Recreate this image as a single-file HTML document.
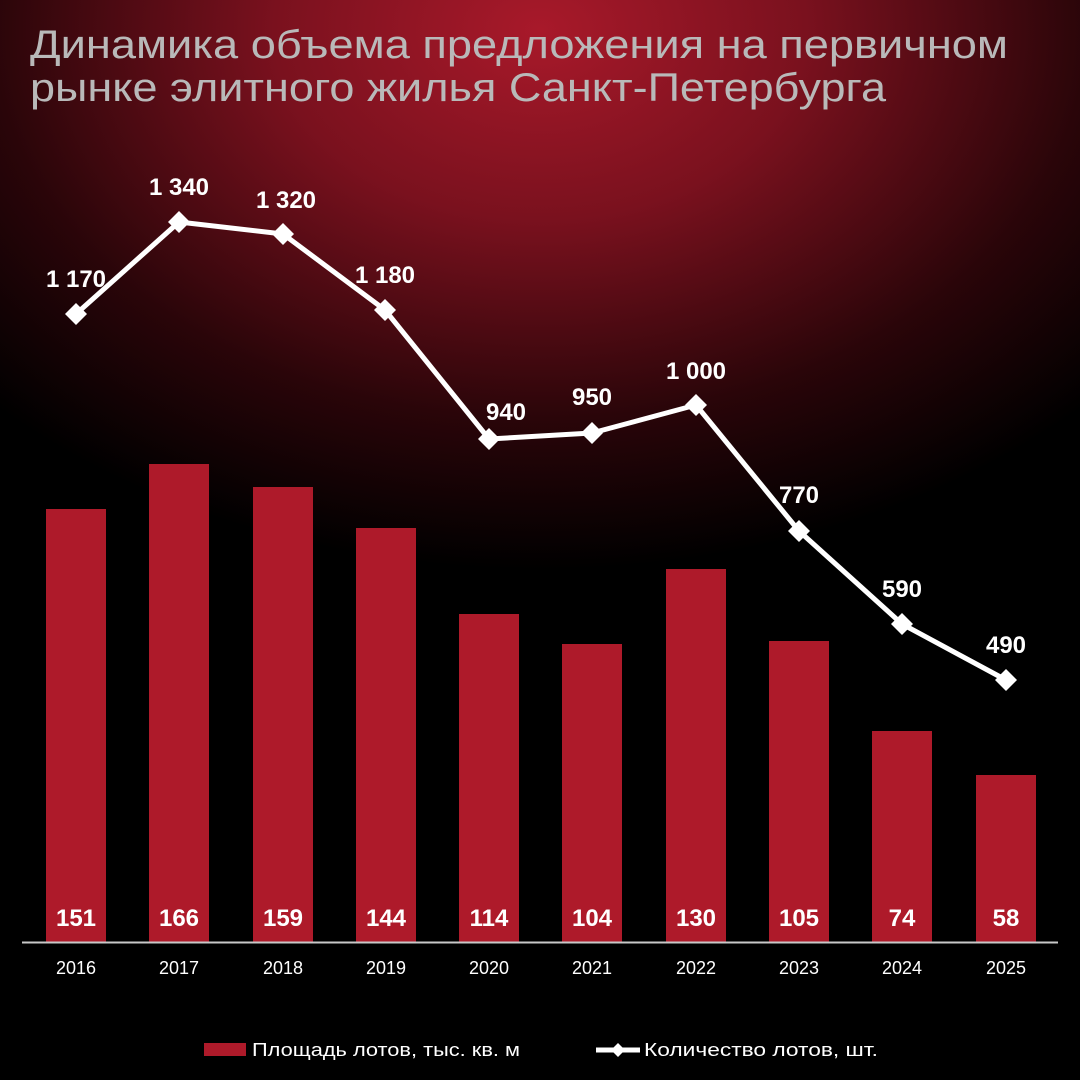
<!DOCTYPE html>
<html><head><meta charset="utf-8"><style>
html,body{margin:0;padding:0;background:#000}
#c{width:1080px;height:1080px;position:relative;overflow:hidden;
background:radial-gradient(ellipse 760px 540px at 540px 30px,#a8192a 0%,#7a111e 35%,#2a0509 72%,#000 100%);}
svg{position:absolute;left:0;top:0}
</style></head><body><div id="c">
<svg width="1080" height="1080" xmlns="http://www.w3.org/2000/svg" font-family="'Liberation Sans', sans-serif">
<text x="30" y="58" font-size="40" fill="#b9b9b9" textLength="978" lengthAdjust="spacingAndGlyphs">Динамика объема предложения на первичном</text>
<text x="30" y="101" font-size="40" fill="#b9b9b9" textLength="856" lengthAdjust="spacingAndGlyphs">рынке элитного жилья Санкт-Петербурга</text>
<g fill="#ae1a2a">
<rect x="46" y="509" width="60" height="433"/>
<rect x="149" y="464" width="60" height="478"/>
<rect x="253" y="487" width="60" height="455"/>
<rect x="356" y="528" width="60" height="414"/>
<rect x="459" y="614" width="60" height="328"/>
<rect x="562" y="644" width="60" height="298"/>
<rect x="666" y="569" width="60" height="373"/>
<rect x="769" y="641" width="60" height="301"/>
<rect x="872" y="731" width="60" height="211"/>
<rect x="976" y="775" width="60" height="167"/>
</g>
<line x1="22" y1="942.5" x2="1058" y2="942.5" stroke="#c8c8c8" stroke-width="2"/>
<g fill="#fff" font-size="24" font-weight="bold" text-anchor="middle">
<text x="76" y="926">151</text><text x="179" y="926">166</text><text x="283" y="926">159</text><text x="386" y="926">144</text><text x="489" y="926">114</text><text x="592" y="926">104</text><text x="696" y="926">130</text><text x="799" y="926">105</text><text x="902" y="926">74</text><text x="1006" y="926">58</text>
</g>
<g fill="#fff" font-size="18" text-anchor="middle">
<text x="76" y="974">2016</text><text x="179" y="974">2017</text><text x="283" y="974">2018</text><text x="386" y="974">2019</text><text x="489" y="974">2020</text><text x="592" y="974">2021</text><text x="696" y="974">2022</text><text x="799" y="974">2023</text><text x="902" y="974">2024</text><text x="1006" y="974">2025</text>
</g>
<polyline points="76,314 179,222 283,234 385,310 489,439 592,433 696,405 799,531 902,624 1006,680" fill="none" stroke="#fff" stroke-width="5" stroke-linejoin="round"/>
<g fill="#fff">
<path d="M76 303l11 11-11 11-11-11z"/><path d="M179 211l11 11-11 11-11-11z"/><path d="M283 223l11 11-11 11-11-11z"/><path d="M385 299l11 11-11 11-11-11z"/><path d="M489 428l11 11-11 11-11-11z"/><path d="M592 422l11 11-11 11-11-11z"/><path d="M696 394l11 11-11 11-11-11z"/><path d="M799 520l11 11-11 11-11-11z"/><path d="M902 613l11 11-11 11-11-11z"/><path d="M1006 669l11 11-11 11-11-11z"/>
</g>
<g fill="#fff" font-size="24" font-weight="bold" text-anchor="middle">
<text x="76" y="287">1 170</text><text x="179" y="195">1 340</text><text x="286" y="208">1 320</text><text x="385" y="283">1 180</text><text x="506" y="420">940</text><text x="592" y="405">950</text><text x="696" y="379">1 000</text><text x="799" y="503">770</text><text x="902" y="597">590</text><text x="1006" y="653">490</text>
</g>
<rect x="204" y="1043" width="42" height="13" fill="#ae1a2a"/>
<text x="252" y="1056" font-size="18" fill="#fff" textLength="268" lengthAdjust="spacingAndGlyphs">Площадь лотов, тыс. кв. м</text>
<line x1="596" y1="1050" x2="640" y2="1050" stroke="#fff" stroke-width="5"/>
<path d="M618 1043l7 7-7 7-7-7z" fill="#fff"/>
<text x="644" y="1056" font-size="18" fill="#fff" textLength="234" lengthAdjust="spacingAndGlyphs">Количество лотов, шт.</text>
</svg>
</div></body></html>
